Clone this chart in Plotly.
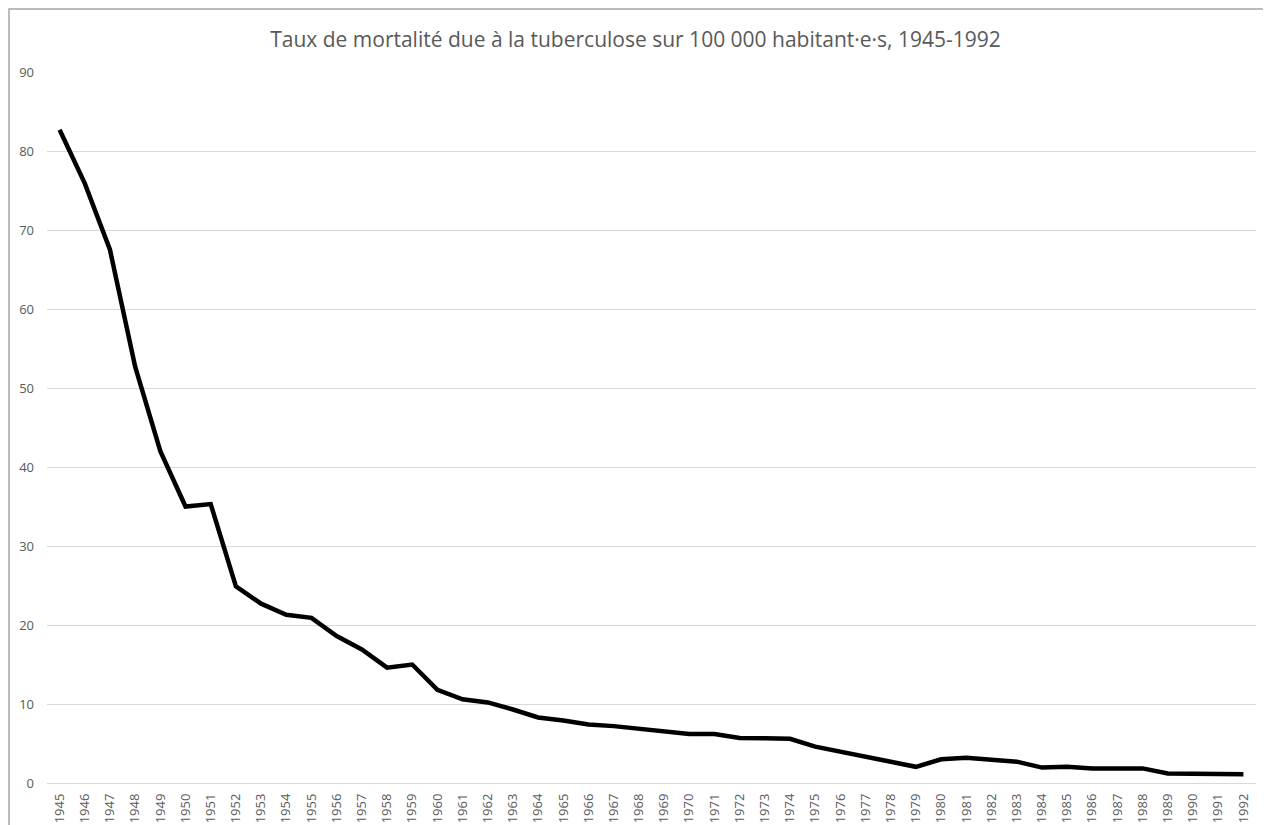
import plotly.graph_objects as go

years = [str(y) for y in range(1945, 1993)]
mortality = [82.7, 75.9, 67.5, 52.7, 42.0, 35.0, 35.3, 24.9, 22.7, 21.3,
             20.9, 18.6, 16.9, 14.6, 15.0, 11.8, 10.6, 10.2, 9.3, 8.3,
             7.9, 7.4, 7.2, 6.9, 6.6, 6.2, 6.2, 5.7, 5.65, 5.6,
             4.6, 4.0, 3.4, 2.7, 2.05, 3.0, 3.2, 2.9, 2.7, 1.95,
             2.05, 1.85, 1.78, 1.85, 1.2, 1.2, 1.1, 1.1]
title_text = "Taux de mortalité due à la tuberculose sur 100 000 habitant·e·s, 1945-1992"

W, H = 1255, 817
L, R, T, B = 39, 7, 64, 42
pw, ph = W - L - R, H - T - B

fig = go.Figure()
fig.add_trace(go.Scatter(x=years, y=mortality, mode="lines",
                         line=dict(color="#000000", width=4.5),
                         showlegend=False, hoverinfo="x+y"))

font_fam = "Open Sans, Liberation Sans, sans-serif"
fig.update_layout(
    width=W, height=H,
    margin=dict(l=L, r=R, t=T, b=B, autoexpand=False),
    paper_bgcolor="white", plot_bgcolor="white",
    title=dict(text=title_text, x=0.5, xanchor="center", xref="container",
               y=1 - 32 / H, yanchor="middle", yref="container",
               font=dict(family=font_fam, size=21, color="#595959")),
    font=dict(family=font_fam, color="#595959"),
    xaxis=dict(type="category", range=[-0.5, 47.5], tickangle=-90,
               showgrid=False, showline=False, zeroline=False,
               tickfont=dict(size=13, color="#595959"), ticks="",
               ticklabelstandoff=7, fixedrange=True, automargin=False),
    yaxis=dict(range=[0, 90], dtick=10, tick0=0, showgrid=True,
               gridcolor="#d9d9d9", gridwidth=1, zeroline=True,
               zerolinecolor="#d9d9d9", zerolinewidth=1, showline=False,
               tickfont=dict(size=13, color="#595959"), ticks="",
               ticklabelstandoff=12, fixedrange=True, automargin=False),
    shapes=[dict(type="rect", xref="paper", yref="paper",
                 x0=(1 - L) / pw, x1=1.2, y0=-0.3, y1=1 + (T - 1) / ph,
                 line=dict(color="#a6a6a6", width=1.5), layer="below")],
)

fig.write_html("out.html")
